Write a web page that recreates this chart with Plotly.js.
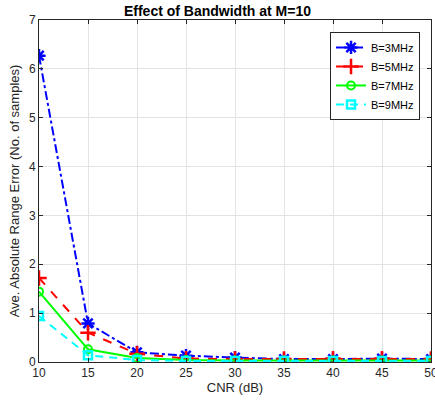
<!DOCTYPE html>
<html><head><meta charset="utf-8">
<script src="https://cdn.plot.ly/plotly-3.0.1.min.js"></script>
<style>body{margin:0;background:#fff}#c{width:435px;height:401px}</style>
</head><body><div id="c"></div>
<script>
const cnr = [10, 15, 20, 25, 30, 35, 40, 45, 50];
const b3 = [6.27, 0.79, 0.2, 0.13, 0.09, 0.06, 0.06, 0.07, 0.06];
const b5 = [1.72, 0.6, 0.17, 0.07, 0.06, 0.06, 0.07, 0.07, 0.06];
const b7 = [1.44, 0.26, 0.08, 0.04, 0.03, 0.03, 0.03, 0.03, 0.03];
const b9 = [0.94, 0.14, 0.04, 0.02, 0.02, 0.02, 0.02, 0.02, 0.02];
const names = ['B=3MHz', 'B=5MHz', 'B=7MHz', 'B=9MHz'];
const FONT = 'Liberation Sans, Arial, sans-serif';
const traces = [
  {x: cnr, y: b3, name: names[0], mode: 'lines+markers',
   line: {color: '#0000ff', width: 2, dash: 'dashdot'},
   marker: {symbol: 'asterisk-open', size: 11, color: '#0000ff', line: {color: '#0000ff', width: 2.5}}},
  {x: cnr, y: b5, name: names[1], mode: 'lines+markers',
   line: {color: '#ff0000', width: 2, dash: 'dash'},
   marker: {symbol: 'cross-thin-open', size: 11, color: '#ff0000', line: {color: '#ff0000', width: 2.5}}},
  {x: cnr, y: b7, name: names[2], mode: 'lines+markers',
   line: {color: '#00ff00', width: 2, dash: 'solid'},
   marker: {symbol: 'circle-open', size: 8, color: '#00ff00', line: {color: '#00ff00', width: 2}}},
  {x: cnr, y: b9, name: names[3], mode: 'lines+markers',
   line: {color: '#00ffff', width: 2, dash: '8px,6px'},
   marker: {symbol: 'square-open', size: 8, color: '#00ffff', line: {color: '#00ffff', width: 2.5}}}
];
const axisCommon = {
  showline: true, linecolor: '#262626', linewidth: 1, mirror: 'ticks',
  ticks: 'inside', ticklen: 4, tickcolor: '#262626',
  showgrid: true, gridcolor: '#e3e3e3', gridwidth: 1, zeroline: false,
  ticklabeloverflow: 'allow',
  tickfont: {family: FONT, size: 12, color: '#262626'}
};
const layout = {
  width: 435, height: 401,
  margin: {l: 39, r: 4, t: 20, b: 39},
  paper_bgcolor: '#fff', plot_bgcolor: '#fff',
  showlegend: true,
  title: {text: '<b>Effect of Bandwidth at M=10</b>', x: 0.5, xanchor: 'center', y: 0.984, yanchor: 'top',
          font: {family: FONT, size: 14, color: '#000'}},
  xaxis: Object.assign({}, axisCommon, {range: [10, 50], tickvals: cnr, ticktext: cnr.map(String),
    title: {text: 'CNR (dB)', standoff: 3, font: {family: FONT, size: 13, color: '#262626'}}}),
  yaxis: Object.assign({}, axisCommon, {range: [0, 7], tickvals: [0,1,2,3,4,5,6,7],
    title: {text: 'Ave. Absolute Range Error (No. of samples)', standoff: 6, font: {family: FONT, size: 13, color: '#262626'}}}),
  legend: {x: 0.972, xanchor: 'right', y: 0.965, yanchor: 'top',
    bgcolor: '#fff', bordercolor: '#262626', borderwidth: 1,
    font: {family: FONT, size: 11, color: '#000'},
    itemwidth: 30, tracegroupgap: 0}
};
Plotly.newPlot('c', traces, layout, {displayModeBar: false, staticPlot: true});
</script></body></html>
